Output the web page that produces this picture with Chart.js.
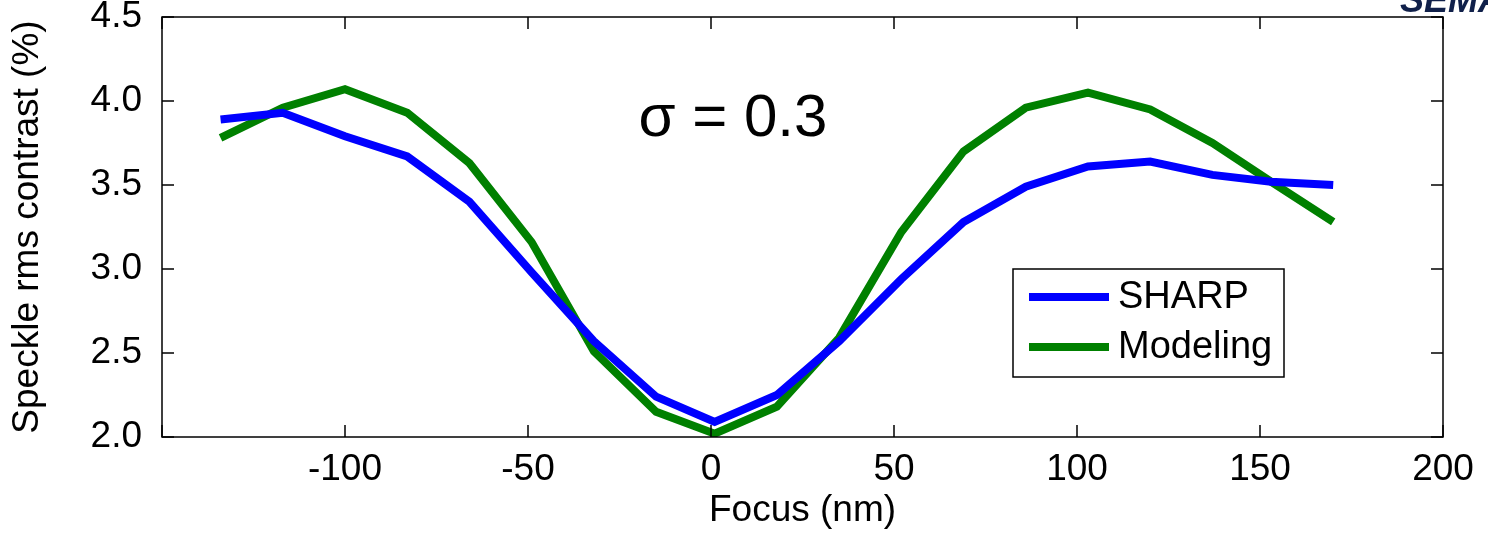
<!DOCTYPE html>
<html>
<head>
<meta charset="utf-8">
<script src="https://cdn.jsdelivr.net/npm/chart.js@4.4.0/dist/chart.umd.min.js"></script>
<style>
    html, body { margin: 0; padding: 0; background: #fff; }
    #wrap { width: 1488px; height: 533px; }
</style>
</head>
<body>
<div id="wrap"><canvas id="chart" width="1488" height="533"></canvas></div>
<script>
// Focus (nm) sampling positions
const focusNm = [-134, -117, -100, -83, -66, -49, -32, -15, 1, 18, 35, 52, 69, 86, 103, 120, 137, 153, 170];

// Speckle rms contrast (%)
const sharpValues = [3.89, 3.93, 3.79, 3.67, 3.40, 2.98, 2.57, 2.24, 2.09, 2.25, 2.57, 2.94, 3.28, 3.49, 3.61, 3.64, 3.56, 3.52, 3.50];
const modelingValues = [3.78, 3.96, 4.07, 3.93, 3.63, 3.16, 2.51, 2.15, 2.02, 2.18, 2.59, 3.22, 3.70, 3.96, 4.05, 3.95, 3.75, 3.52, 3.28];

const seriesLabels = ['SHARP', 'Modeling'];
const xTickValues = [-150, -100, -50, 0, 50, 100, 150, 200];
const yTickValues = [2.0, 2.5, 3.0, 3.5, 4.0, 4.5];

const FONT = "'Liberation Sans', Arial, sans-serif";

function toPoints(xs, ys) {
    return xs.map((x, i) => ({ x: x, y: ys[i] }));
}

// Box around the plot with inward ticks on all four sides (MATLAB style)
const framePlugin = {
    id: 'frame',
    afterDatasetsDraw(chart) {
        const { ctx, chartArea: a, scales } = chart;
        const len = 12;
        ctx.save();
        ctx.strokeStyle = '#000';
        ctx.lineWidth = 1.5;
        ctx.strokeRect(a.left, a.top, a.right - a.left, a.bottom - a.top);
        ctx.beginPath();
        xTickValues.forEach(v => {
            const px = scales.x.getPixelForValue(v);
            ctx.moveTo(px, a.bottom); ctx.lineTo(px, a.bottom - len);
            ctx.moveTo(px, a.top); ctx.lineTo(px, a.top + len);
        });
        yTickValues.forEach(v => {
            const py = scales.y.getPixelForValue(v);
            ctx.moveTo(a.left, py); ctx.lineTo(a.left + len, py);
            ctx.moveTo(a.right, py); ctx.lineTo(a.right - len, py);
        });
        ctx.stroke();

        // annotation
        ctx.fillStyle = '#000';
        ctx.font = '60px ' + FONT;
        ctx.textAlign = 'center';
        ctx.textBaseline = 'alphabetic';
        ctx.fillText('\u03C3 = 0.3', scales.x.getPixelForValue(6), scales.y.getPixelForValue(3.79));

        // legend box
        const lx = 1013, ly = 269, lw = 271, lh = 108;
        ctx.fillStyle = '#fff';
        ctx.fillRect(lx, ly, lw, lh);
        ctx.strokeRect(lx, ly, lw, lh);
        chart.data.datasets.forEach((ds, i) => {
            const y = ly + 28 + i * 50;
            ctx.strokeStyle = ds.borderColor;
            ctx.lineWidth = 8;
            ctx.beginPath();
            ctx.moveTo(lx + 16, y); ctx.lineTo(lx + 96, y);
            ctx.stroke();
            ctx.fillStyle = '#000';
            ctx.font = '38px ' + FONT;
            ctx.textAlign = 'left';
            ctx.textBaseline = 'middle';
            ctx.fillText(ds.label, lx + 105, y + 1);
        });

        // clipped logo in the corner
        ctx.fillStyle = '#10204a';
        ctx.font = 'italic bold 36px ' + FONT;
        ctx.textAlign = 'left';
        ctx.textBaseline = 'alphabetic';
        ctx.fillText('SEMATECH', 1400, 12);
        ctx.restore();
    }
};

new Chart(document.getElementById('chart'), {
    type: 'line',
    data: {
        datasets: [
            {
                label: seriesLabels[0],
                data: toPoints(focusNm, sharpValues),
                borderColor: '#0000FF',
                borderWidth: 8,
                pointRadius: 0,
                tension: 0,
                borderJoinStyle: 'miter',
                borderCapStyle: 'butt'
            },
            {
                label: seriesLabels[1],
                data: toPoints(focusNm, modelingValues),
                borderColor: '#008000',
                borderWidth: 8,
                pointRadius: 0,
                tension: 0,
                borderJoinStyle: 'miter',
                borderCapStyle: 'butt'
            }
        ]
    },
    options: {
        responsive: false,
        animation: false,
        devicePixelRatio: 1,
        layout: { padding: { top: 17, right: 45, left: 0, bottom: 0 } },
        plugins: {
            legend: { display: false },
            tooltip: { enabled: false }
        },
        scales: {
            x: {
                type: 'linear',
                min: -150,
                max: 200,
                afterBuildTicks: s => { s.ticks = xTickValues.map(v => ({ value: v })); },
                afterFit: s => { s.height = 96; },
                grid: { display: false },
                border: { display: false },
                ticks: {
                    color: '#000',
                    font: { family: FONT, size: 37 },
                    padding: 3,
                    maxRotation: 0,
                    autoSkip: false,
                    callback: v => (v === -150 ? '' : String(v))
                },
                title: {
                    display: true,
                    text: 'Focus (nm)',
                    color: '#000',
                    font: { family: FONT, size: 37 },
                    padding: { top: 0, bottom: 0 }
                }
            },
            y: {
                type: 'linear',
                min: 2,
                max: 4.5,
                afterBuildTicks: s => { s.ticks = yTickValues.map(v => ({ value: v })); },
                afterFit: s => { s.width = 162; s.paddingTop = 0; s.paddingBottom = 0; },
                grid: { display: false },
                border: { display: false },
                ticks: {
                    color: '#000',
                    font: { family: FONT, size: 37 },
                    padding: 12,
                    autoSkip: false,
                    callback: v => Number(v).toFixed(1)
                },
                title: {
                    display: true,
                    text: 'Speckle rms contrast (%)',
                    color: '#000',
                    font: { family: FONT, size: 37 },
                    padding: { top: 6, bottom: 0 }
                }
            }
        }
    },
    plugins: [framePlugin]
});
</script>
</body>
</html>
